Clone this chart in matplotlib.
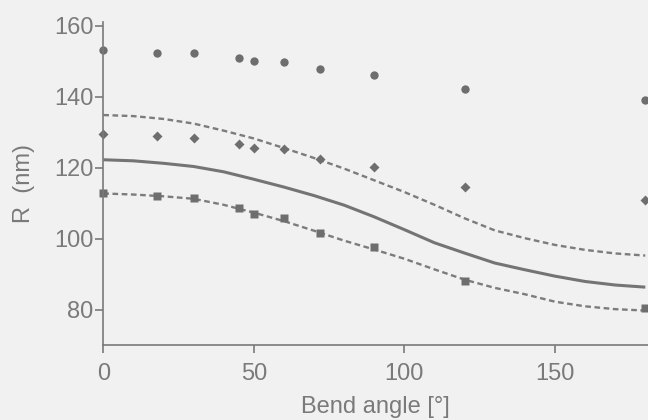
import matplotlib
matplotlib.use("Agg")
import matplotlib.pyplot as plt

# Measured points
angles = [0, 18, 30, 45, 50, 60, 72, 90, 120, 180]
r_circles = [153.3, 152.5, 152.3, 150.9, 150.2, 149.8, 147.9, 146.3, 142.1, 139.1]
r_diamonds = [129.6, 128.9, 128.3, 126.8, 125.6, 125.2, 122.4, 120.3, 114.7, 111.0]
r_squares = [112.8, 112.0, 111.4, 108.6, 106.9, 106.0, 101.6, 97.6, 88.1, 80.5]

# Model curves
curve_angles = [0, 10, 20, 30, 40, 50, 60, 70, 80, 90, 100, 110, 120, 130, 140, 150, 160, 170, 180]
curve_mid = [122.3, 122.0, 121.3, 120.4, 118.9, 116.8, 114.6, 112.2, 109.5, 106.2, 102.6, 98.9,
             96.0, 93.2, 91.3, 89.5, 88.0, 87.0, 86.4]
curve_upper = [134.9, 134.6, 133.8, 132.5, 130.5, 128.3, 125.6, 122.8, 119.8, 116.5, 113.2, 109.6,
               105.8, 102.4, 100.2, 98.3, 96.9, 95.9, 95.3]
curve_lower = [112.8, 112.5, 112.0, 111.3, 109.6, 107.4, 105.0, 102.3, 99.5, 97.0, 94.4, 91.4,
               88.5, 86.2, 84.4, 82.3, 81.0, 80.2, 79.8]

xticks = [0, 50, 100, 150]
yticks = [80, 100, 120, 140, 160]

bg = "#f1f1f1"
txt = "#7a7a7a"
mk = "#6e6e6e"

plt.rcParams["font.family"] = ["Liberation Sans", "DejaVu Sans"]

fig = plt.figure(figsize=(6.48, 4.2), dpi=100, facecolor=bg)
ax = fig.add_axes([0.1594, 0.1786, 0.8406, 0.7697])
ax.set_facecolor(bg)

ax.plot(curve_angles, curve_upper, color="#7c7c7c", lw=1.7, dashes=(2.4, 1.5), clip_on=False)
ax.plot(curve_angles, curve_mid, color="#747474", lw=2.2, solid_capstyle="butt")
ax.plot(curve_angles, curve_lower, color="#7c7c7c", lw=1.7, dashes=(2.4, 1.5))

ax.plot(angles, r_circles, "o", color=mk, ms=6, mec="none", clip_on=False)
ax.plot(angles, r_diamonds, "D", color=mk, ms=5.5, mec="none", clip_on=False)
ax.plot(angles, r_squares, "s", color=mk, ms=6, mec="none", clip_on=False)

ax.set_xlim(0, 180.9)
ax.set_ylim(70.1, 161.2)
ax.set_xticks(xticks)
ax.set_yticks(yticks)

for s in ["top", "right"]:
    ax.spines[s].set_visible(False)
for s in ["left", "bottom"]:
    ax.spines[s].set_color("#7a7a7a")
    ax.spines[s].set_linewidth(1.2)

ax.tick_params(axis="both", colors="#7a7a7a", labelcolor=txt, labelsize=17,
               length=6, width=1.2, direction="out")
ax.tick_params(axis="y", pad=1)
ax.tick_params(axis="x", pad=7)

ax.set_xlabel("Bend angle [°]", fontsize=17, color=txt, labelpad=8)
ax.set_ylabel("R  (nm)", fontsize=17, color=txt, labelpad=14)

fig.savefig("out.png", dpi=100, facecolor=bg)
